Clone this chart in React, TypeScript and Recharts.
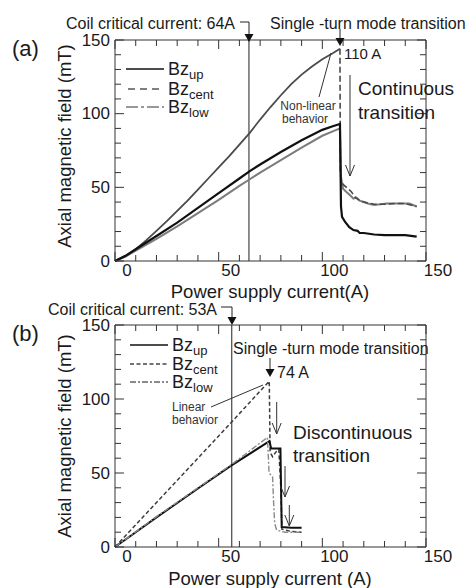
import React from 'react';
import { LineChart, Line, XAxis, YAxis, ReferenceLine } from 'recharts';

const FONT = '"Liberation Sans", Arial, Helvetica, sans-serif';
const AXIS = '#333';
const INK = '#1a1a1a';

// shared axis ticks
const xTicks = [0, 10, 20, 30, 40, 50, 60, 70, 80, 90, 100, 110, 120, 130, 140, 150];
const yTicks = [0, 10, 20, 30, 40, 50, 60, 70, 80, 90, 100, 110, 120, 130, 140, 150];
const legendNames = ['up', 'cent', 'low'];

// (a) current [A], field [mT]
const critA = 64.6;
const upA: [number, number][] = [
  [0, 0], [5, 3.5], [10, 8], [20, 17], [30, 26], [40, 36], [50, 46], [60, 56], [65, 61], [70, 65.5],
  [80, 74], [90, 82], [100, 89], [105, 91.5], [108.5, 93], [108.8, 60], [109, 37], [109.5, 30],
  [111, 26.5], [113, 23], [115, 21], [117, 20.5], [118, 19], [120, 19], [125, 18], [130, 17.5],
  [135, 17.5], [140, 17.5], [145.5, 16.5],
];
const lowA: [number, number][] = [
  [0, 0], [5, 3], [10, 7], [20, 15], [30, 23.5], [40, 32.5], [50, 41.5], [60, 51], [65, 55.5], [70, 60],
  [80, 68.5], [90, 77], [100, 85], [105, 88], [108.5, 90], [108.8, 70], [109, 57], [110, 49],
  [111.5, 47], [113.5, 44.5], [115, 42.3], [116.5, 43], [118, 41], [120, 40], [122, 39], [125, 38],
  [128, 38.5], [131, 39], [136, 39], [142, 39], [145.5, 37],
];
const centRiseA: [number, number][] = [
  [0, 0], [5, 3], [10, 8], [15, 14], [20, 20.5], [25, 27], [30, 34], [35, 41], [40, 48.5], [45, 56],
  [50, 63.5], [55, 71], [60, 79], [65, 87], [70, 96], [75, 104.5], [80, 112.5], [85, 120], [90, 126.5],
  [95, 132], [100, 137], [105, 141], [108.5, 144],
];
const centFallA: [number, number][] = [
  [108.5, 144], [108.6, 100], [108.7, 60], [109, 55], [110, 52], [112, 49.5], [114, 47], [116, 43],
  [118, 41], [120, 40], [125, 38.5], [130, 38.5], [135, 39], [140, 39], [145.5, 37],
];

// (b)
const critB = 56.3;
const upB: [number, number][] = [
  [0, 0], [20, 20], [40, 39.5], [56, 55], [74.5, 71.5], [75.3, 66.5], [79.8, 66.5], [80.4, 13.5],
  [85, 13], [90, 13],
];
const centB: [number, number][] = [
  [0, 0], [25, 37.5], [50, 75], [74.4, 112], [74.6, 90], [74.8, 64], [76, 61], [77.5, 64], [79, 66],
  [80, 40], [80.5, 12], [85, 10.5], [90, 10],
];
const lowB: [number, number][] = [
  [0, 0], [20, 20.5], [40, 40], [56, 55.5], [73.5, 74], [74, 60], [74.3, 50], [76, 47.5], [76.5, 30],
  [77, 16], [78, 11.3], [82, 10], [86, 10], [89, 10],
];

const pts = (arr: [number, number][]) => arr.map(([x, y]) => ({ x, y }));
const isMajor = (v: number) => v % 50 === 0;
const tickLen = (v: number) => (isMajor(v) ? 9 : 6);

// plot boxes (page pixels) — must match Panel margins below
const boxA = { left: 115, right: 426, top: 40, bottom: 261 };
const boxB = { left: 115, right: 426, top: 325, bottom: 547 };

const BottomLabel = (p: any) => {
  const v = p.payload.value;
  return isMajor(v) ? (
    <text x={p.x + 12} y={p.y + 15} textAnchor="middle" fontSize={17} fill={INK} fontFamily={FONT}>{v}</text>
  ) : <g />;
};
const LeftLabel = (p: any) => {
  const v = p.payload.value;
  return isMajor(v) ? (
    <text x={p.x - 5} y={p.y} textAnchor="end" dominantBaseline="central" fontSize={17} fill={INK} fontFamily={FONT}>{v}</text>
  ) : <g />;
};

interface S { data: [number, number][]; color: string; width: number; dash?: string }

const Panel = ({ series, crit, height, top, bottom }: { series: S[]; crit: number; height: number; top: number; bottom: number }) => (
  <LineChart width={469} height={height} margin={{ top: top - 10, right: 43 - 10, bottom: bottom - 20, left: 115 - 40 }}>
    <XAxis xAxisId="b" dataKey="x" type="number" domain={[0, 150]} ticks={xTicks} interval={0} height={20}
      tickSize={0} tickMargin={0} tickLine={false} axisLine={{ stroke: AXIS }} tick={(p: any) => <BottomLabel {...p} />} />
    <XAxis xAxisId="t" orientation="top" dataKey="x" type="number" domain={[0, 150]} ticks={xTicks} interval={0} height={10}
      tickLine={false} axisLine={{ stroke: AXIS }} tick={false} />
    <YAxis yAxisId="l" type="number" domain={[0, 150]} ticks={yTicks} interval={0} width={40}
      tickSize={0} tickMargin={0} tickLine={false} axisLine={{ stroke: AXIS }} tick={(p: any) => <LeftLabel {...p} />} />
    <YAxis yAxisId="r" orientation="right" type="number" domain={[0, 150]} ticks={yTicks} interval={0} width={10}
      tickLine={false} axisLine={{ stroke: AXIS }} tick={false} />
    <ReferenceLine xAxisId="b" yAxisId="l" x={crit} stroke="#444" strokeWidth={1.2} />
    {series.map((s, i) => (
      <Line key={i} xAxisId="b" yAxisId="l" data={pts(s.data)} dataKey="y" type="linear" dot={false}
        stroke={s.color} strokeWidth={s.width} strokeDasharray={s.dash} isAnimationActive={false} />
    ))}
  </LineChart>
);

const seriesA: S[] = [
  { data: lowA, color: '#7c7c7c', width: 2 },
  { data: centRiseA, color: '#4a4a4a', width: 1.8 },
  { data: centFallA, color: '#4a4a4a', width: 1.6, dash: '6 3' },
  { data: upA, color: '#111', width: 2.2 },
];
const seriesB: S[] = [
  { data: centB, color: '#3c3c3c', width: 1.5, dash: '4 2.5' },
  { data: upB, color: '#111', width: 2 },
  { data: lowB, color: '#8a8a8a', width: 1.4, dash: '6 2 2 2' },
];

// inward ticks on all four sides of a box
const BoxTicks = ({ b }: { b: { left: number; right: number; top: number; bottom: number } }) => {
  const sx = (v: number) => b.left + (v / 150) * (b.right - b.left);
  const sy = (v: number) => b.bottom - (v / 150) * (b.bottom - b.top);
  let d = '';
  xTicks.forEach((v) => {
    const x = sx(v);
    d += `M${x},${b.bottom}V${b.bottom - tickLen(v)}M${x},${b.top}V${b.top + tickLen(v)}`;
  });
  yTicks.forEach((v) => {
    const y = sy(v);
    d += `M${b.left},${y}H${b.left + tickLen(v)}M${b.right},${y}H${b.right - tickLen(v)}`;
  });
  return <path d={d} stroke={AXIS} strokeWidth={1} fill="none" />;
};

const Tri = ({ x, y }: { x: number; y: number }) => (
  <polygon points={`${x - 4.5},${y - 8} ${x + 4.5},${y - 8} ${x},${y}`} fill="#111" />
);
const OpenArrow = ({ x, y1, y2 }: { x: number; y1: number; y2: number }) => (
  <g stroke="#333" fill="none" strokeWidth={1}>
    <line x1={x} y1={y1} x2={x} y2={y2} />
    <polyline points={`${x - 4.5},${y2 - 11} ${x},${y2} ${x + 4.5},${y2 - 11}`} />
  </g>
);
const LegendRow = ({ x1, x2, y, dash, color, name }: { x1: number; x2: number; y: number; dash?: string; color: string; name: string }) => (
  <g>
    <line x1={x1} y1={y} x2={x2} y2={y} stroke={color} strokeWidth={1.6} strokeDasharray={dash} />
    <text x={x2 + 4} y={y + 6} fontSize={18} fill={INK}>
      Bz<tspan fontSize={13} dy={4}>{name}</tspan>
    </text>
  </g>
);

const Overlay = () => (
  <svg width={469} height={588} style={{ position: 'absolute', left: 0, top: 0, pointerEvents: 'none' }} fontFamily={FONT}>
    <BoxTicks b={boxA} />
    <BoxTicks b={boxB} />

    {/* (a) */}
    <text x={12} y={48} fontSize={22} dominantBaseline="central" fill={INK}>(a)</text>
    <text x={235} y={23} fontSize={16} textAnchor="end" dominantBaseline="central" fill={INK}>Coil critical current: 64A</text>
    <path d="M240,22 H249 V34" stroke="#222" fill="none" />
    <Tri x={249} y={42} />
    <text x={270} y={23} fontSize={16} dominantBaseline="central" fill={INK}>Single -turn mode transition</text>
    <line x1={340} y1={29} x2={340} y2={40} stroke="#222" />
    <Tri x={340} y={46} />
    <text x={344} y={53} fontSize={15} dominantBaseline="central" fill={INK}>110 A</text>
    <text x={308} y={106} fontSize={12} textAnchor="middle" dominantBaseline="central" fill="#333">Non-linear</text>
    <text x={305} y={119} fontSize={12} textAnchor="middle" dominantBaseline="central" fill="#333">behavior</text>
    <line x1={319} y1={97} x2={331} y2={53} stroke="#333" />
    <text x={358} y={88} fontSize={19} dominantBaseline="central" fill={INK}>Continuous</text>
    <text x={358} y={112} fontSize={19} dominantBaseline="central" fill={INK}>transition</text>
    <OpenArrow x={350} y1={75} y2={176} />
    <LegendRow x1={126} x2={164} y={69} color="#111" name={legendNames[0]} />
    <LegendRow x1={128} x2={164} y={89} color="#555" dash="7 5" name={legendNames[1]} />
    <LegendRow x1={126} x2={164} y={107} color="#777" dash="12 3 3 3" name={legendNames[2]} />
    <text transform="translate(64,146) rotate(-90)" fontSize={18.5} textAnchor="middle" dominantBaseline="central" fill={INK}>Axial magnetic field (mT)</text>
    <text x={270} y={291} fontSize={18.5} textAnchor="middle" dominantBaseline="central" fill={INK}>Power supply current(A)</text>

    {/* (b) */}
    <text x={12} y={333} fontSize={22} dominantBaseline="central" fill={INK}>(b)</text>
    <text x={217} y={309} fontSize={16} textAnchor="end" dominantBaseline="central" fill={INK}>Coil critical current: 53A</text>
    <path d="M221,307 H232 V317" stroke="#222" fill="none" />
    <Tri x={232} y={325} />
    <LegendRow x1={130} x2={168} y={345} color="#111" name={legendNames[0]} />
    <LegendRow x1={130} x2={168} y={364} color="#444" dash="4 2.5" name={legendNames[1]} />
    <LegendRow x1={130} x2={168} y={382} color="#666" dash="6 2 2 2" name={legendNames[2]} />
    <text x={233} y={348} fontSize={16} dominantBaseline="central" fill={INK}>Single -turn mode transition</text>
    <line x1={270} y1={358} x2={270} y2={370} stroke="#222" />
    <Tri x={270} y={377} />
    <text x={277} y={372} fontSize={16} dominantBaseline="central" fill={INK}>74 A</text>
    <text x={172} y={407} fontSize={12} dominantBaseline="central" fill="#333">Linear</text>
    <text x={172} y={420} fontSize={12} dominantBaseline="central" fill="#333">behavior</text>
    <line x1={211} y1={407} x2={263} y2={385} stroke="#333" />
    <text x={293} y={432} fontSize={19} dominantBaseline="central" fill={INK}>Discontinuous</text>
    <text x={293} y={455} fontSize={19} dominantBaseline="central" fill={INK}>transition</text>
    <OpenArrow x={276.7} y1={402} y2={434} />
    <OpenArrow x={285} y1={466} y2={497} />
    <OpenArrow x={289.3} y1={505} y2={526} />
    <text transform="translate(64,436) rotate(-90)" fontSize={18.5} textAnchor="middle" dominantBaseline="central" fill={INK}>Axial magnetic field (mT)</text>
    <text x={270} y={578} fontSize={18.5} textAnchor="middle" dominantBaseline="central" fill={INK}>Power supply current (A)</text>
  </svg>
);

export default function App() {
  return (
    <div style={{ position: 'absolute', left: 0, top: 0, width: 469, height: 588, background: '#fff', fontFamily: FONT }}>
      <div style={{ position: 'absolute', left: 0, top: 0 }}>
        <Panel series={seriesA} crit={critA} height={290} top={boxA.top} bottom={290 - boxA.bottom} />
      </div>
      <div style={{ position: 'absolute', left: 0, top: 290 }}>
        <Panel series={seriesB} crit={critB} height={298} top={boxB.top - 290} bottom={290 + 298 - boxB.bottom} />
      </div>
      <Overlay />
    </div>
  );
}
